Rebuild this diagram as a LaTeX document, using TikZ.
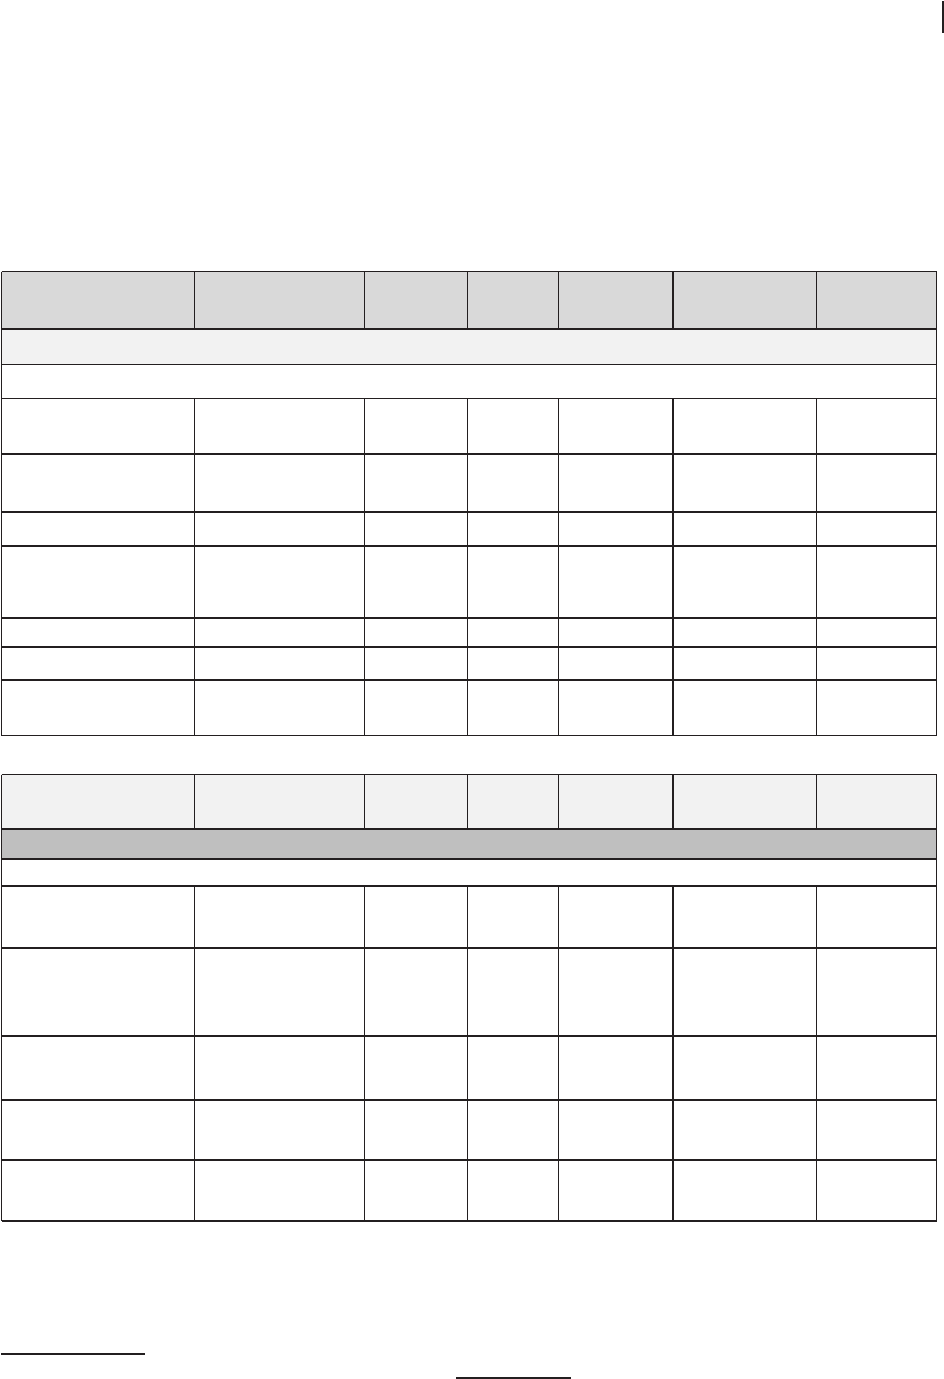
\documentclass[tikz,border=0pt]{standalone}
\usepackage{xcolor}
\definecolor{rulecol}{HTML}{231F20}
\definecolor{headA}{HTML}{D9D9D9}
\definecolor{lightrow}{HTML}{F2F2F2}
\definecolor{midgray}{HTML}{BFBFBF}
\begin{document}
\begin{tikzpicture}[x=1pt,y=-1pt,
  rule/.style={draw=rulecol,line width=1.3pt},
  thinrule/.style={draw=rulecol,line width=1.2pt},
  footrule/.style={draw=rulecol,line width=1.8pt}]
\useasboundingbox (0,0) rectangle (944,1379);
\fill[white] (0,0) rectangle (944,1379);
% fills table 1
\fill[headA] (1.5,271.5) rectangle (936.5,329);
\fill[lightrow] (1.5,329) rectangle (936.5,364.5);
% fills table 2
\fill[lightrow] (1.5,774.5) rectangle (936.5,829);
\fill[midgray] (1.5,829) rectangle (936.5,859);
% table 1 horizontal lines
\foreach \y in {271.5,329,364.5,398.5,454,512,546,618,647,680,735.5}
  \draw[rule] (1.5,\y) -- (936.5,\y);
% table 1 outer verticals
\draw[rule] (1.5,271.5) -- (1.5,735.5);
\draw[rule] (936.5,271.5) -- (936.5,735.5);
% table 1 inner verticals
\foreach \x in {194.5,364.5,467.5,558.5,673,816.5} {
  \draw[thinrule] (\x,271.5) -- (\x,329);
  \draw[thinrule] (\x,398.5) -- (\x,735.5);
}
% table 2 horizontal lines
\foreach \y in {774.5,829,859,886,948,1036,1100,1160,1221}
  \draw[rule] (1.5,\y) -- (936.5,\y);
\draw[rule] (1.5,774.5) -- (1.5,1221);
\draw[rule] (936.5,774.5) -- (936.5,1221);
\foreach \x in {194.5,364.5,467.5,558.5,673,816.5} {
  \draw[thinrule] (\x,774.5) -- (\x,829);
  \draw[thinrule] (\x,886) -- (\x,1221);
}
% footnote rules
\draw[footrule] (1,1354) -- (145,1354);
\draw[footrule] (456,1377.8) -- (571,1377.8);
% margin bar top right
\draw[draw=rulecol,line width=1.7pt] (942.8,1) -- (942.8,33);
\end{tikzpicture}
\end{document}
